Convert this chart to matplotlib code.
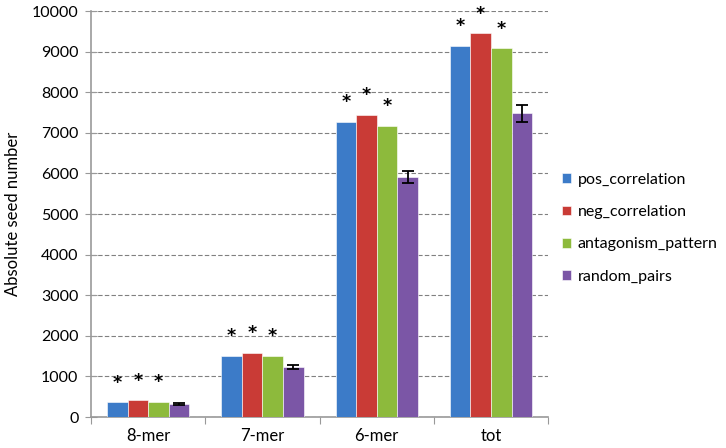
import numpy as np
import matplotlib.pyplot as plt

categories = ['8-mer', '7-mer', '6-mer', 'tot']
series = ['pos_correlation', 'neg_correlation', 'antagonism_pattern', 'random_pairs']
pos_corr = [370, 1510, 7270, 9150]
neg_corr = [420, 1585, 7440, 9450]
antag = [380, 1510, 7170, 9080]
random_pairs = [320, 1240, 5920, 7480]
random_err = [25, 45, 150, 210]
colors = ['#3C7BC8', '#C93B36', '#8DBA3C', '#7B56A6']

plt.rcParams['font.family'] = ['Lato', 'DejaVu Sans']

fig = plt.figure(figsize=(7.26, 4.48), dpi=100)
ax = fig.add_axes([0.1253, 0.069, 0.6297, 0.9064])

x = np.arange(len(categories))
w = 0.18
vals = [pos_corr, neg_corr, antag, random_pairs]
for i, (name, v, c) in enumerate(zip(series, vals, colors)):
    xs = x + (i - 1.5) * w
    err = random_err if i == 3 else None
    ax.bar(xs, v, w, color=c, label=name, yerr=err, capsize=4,
           edgecolor='white', linewidth=0.4,
           error_kw=dict(ecolor='black', elinewidth=1.3, capthick=1.3), zorder=3)
    if i < 3:
        for xi, vi in zip(xs, v):
            ax.text(xi, vi + 480, '*', ha='center', va='center', fontsize=12.5,
                    fontweight='bold', family='DejaVu Sans', zorder=4)

ax.set_ylim(0, 10000)
ax.set_xlim(-0.5, 3.5)
ax.set_yticks(range(0, 10001, 1000))
ax.yaxis.grid(True, linestyle=(0, (4, 2)), color='#808080', linewidth=0.8, zorder=0)
ax.set_ylabel('Absolute seed number', fontsize=12, labelpad=8)
ax.tick_params(axis='y', labelsize=11.5, length=8, direction='inout', color='#999999', pad=5)

ax.set_xticks(np.arange(-0.5, 3.6, 1))
ax.set_xticklabels([])
ax.tick_params(axis='x', length=5, color='#999999')
ax.set_xticks(x, minor=True)
ax.set_xticklabels(categories, minor=True, fontsize=12)
ax.tick_params(axis='x', which='minor', length=0, pad=8)

for s in ['top', 'right']:
    ax.spines[s].set_visible(False)
for s in ['left', 'bottom']:
    ax.spines[s].set_color('#999999')
    ax.spines[s].set_linewidth(1.2)

ax.legend(loc='center left', bbox_to_anchor=(1.01, 0.465), frameon=False,
          fontsize=11.5, handlelength=0.55, handleheight=0.55, labelspacing=1.15,
          handletextpad=0.4, borderaxespad=0.2)

fig.savefig('out.png', dpi=100)
